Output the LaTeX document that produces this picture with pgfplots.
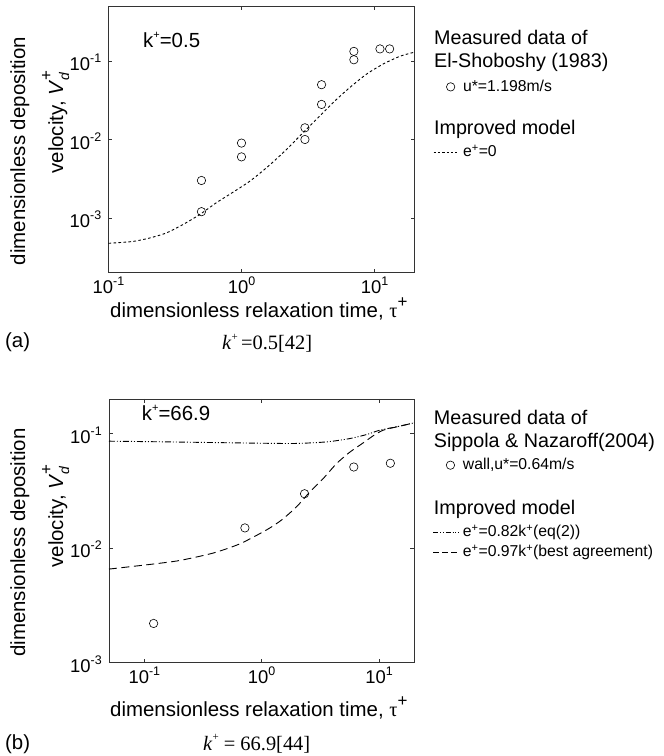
\documentclass[border=0pt]{standalone}
\usepackage{fontspec}
\setmainfont{Liberation Sans}
\newfontfamily\serif{Liberation Serif}
\usepackage{pgfplots}
\pgfplotsset{compat=1.18}

\newcommand\tsup[1]{\raisebox{0.45em}{\fontsize{11}{11}\selectfont #1}}
\newcommand\tksup[1]{\raisebox{0.42em}{\fontsize{12.5}{12.5}\selectfont #1}}
\newcommand\tenp[1]{10\tksup{#1}}
\newcommand\hdr[2]{\hspace*{-29bp}\fontsize{19.8}{19.8}\selectfont\rule{0pt}{#1}#2}
\newcommand\ent[2]{\fontsize{15.8}{15.8}\selectfont\rule{0pt}{#1}#2}
\newcommand\bigfont{\fontsize{20.5}{20.5}\selectfont}
\newcommand\vlabel{velocity, \textit{V}\rlap{\raisebox{-0.3em}{\fontsize{14}{14}\selectfont\textit{d}}}\raisebox{0.55em}{\fontsize{17}{17}\selectfont +}}
\newcommand\xlab{dimensionless relaxation time, {\serif τ}\raisebox{0.5em}{\fontsize{17}{17}\selectfont +}}

\pgfplotsset{
  lhead/.style={legend image code/.code={}},
  lcirc/.style={legend image code/.code={\draw[black, line width=0.6bp] plot[mark=o, mark size=4.2bp] coordinates {(17bp,4.5bp)};}},
  ldots/.style={legend image code/.code={\draw[black, line width=0.9bp, dash pattern=on 2.3bp off 2bp] (0bp,4bp) -- (25bp,4bp);}},
  ldashdot/.style={legend image code/.code={\draw[black, line width=0.9bp, dash pattern=on 5bp off 1.8bp on 1bp off 1.8bp on 1bp off 1.8bp] (0bp,4bp) -- (25bp,4bp);}},
  ldash/.style={legend image code/.code={\draw[black, line width=0.9bp, dash pattern=on 5.5bp off 3.5bp] (0bp,4bp) -- (25bp,4bp);}},
}

\begin{document}
\begin{tikzpicture}
\useasboundingbox (0,0) rectangle (664bp,756bp);

% ---------------- panel (a) ----------------
\begin{axis}[
  scale only axis, xmode=log, ymode=log,
  at={(108.5bp,483.3bp)}, anchor=south west,
  width=306bp, height=266.4bp,
  xmin=0.1, xmax=20, ymin=2e-4, ymax=0.5,
  axis line style={black!80, line width=0.6bp},
  major tick style={black!80, line width=0.6bp},
  major tick length=4bp, minor tick length=0pt,
  tick align=inside, tick pos=both,
  xtick={0.1,1,10}, xticklabels={\tenp{-1},\tenp{0},\tenp{1}},
  ytick={0.001,0.01,0.1}, yticklabels={\tenp{-3},\tenp{-2},\tenp{-1}},
  xticklabel style={anchor=base, yshift=-21bp, font=\fontsize{18.5}{18.5}\selectfont},
  yticklabel style={anchor=east, inner sep=0pt, xshift=-7bp, yshift=-1.5bp, font=\fontsize{18.5}{18.5}\selectfont},
  legend style={draw=none, fill=none, inner sep=0pt, outer sep=0pt,
    at={(rel axis cs:1,1)}, anchor=north west, xshift=18.7bp, yshift=-24.1bp,
    row sep=0pt, column sep=4bp,
    cells={anchor=base west}, nodes={inner sep=0pt, text depth=0pt}},
]
\addlegendimage{lhead}
\addlegendentry{\hdr{14bp}{Measured data of}}
\addlegendimage{lhead}
\addlegendentry{\hdr{23.3bp}{El-Shoboshy (1983)}}
\addlegendimage{lcirc}
\addlegendentry{\ent{23.4bp}{u*=1.198m/s}}
\addlegendimage{lhead}
\addlegendentry{\hdr{43.3bp}{Improved model}}
\addlegendimage{ldots}
\addlegendentry{\ent{21.7bp}{e\textsuperscript{+}=0}}

\addplot[only marks, mark=o, mark size=4.2bp, line width=0.6bp, black, forget plot] coordinates {
 (0.5,3.0e-3) (0.5,1.2e-3) (1,9.0e-3) (1,6.0e-3) (3,1.41e-2) (3,1.0e-2)
 (4,0.050) (4,0.028) (7,0.133) (7,0.104) (11,0.143) (13,0.143)};
\addplot[black, line width=0.9bp, dash pattern=on 2.6bp off 2.4bp, smooth, tension=0.4, forget plot] coordinates {
 (0.1,4.74e-4) (0.152,5.0e-4) (0.203,5.53e-4) (0.272,6.42e-4) (0.362,8.2e-4)
 (0.484,1.10e-3) (0.647,1.56e-3) (0.865,2.13e-3) (1.156,2.94e-3) (1.544,4.37e-3)
 (2.06,6.8e-3) (2.75,0.0111) (3.68,0.0182) (4.91,0.0298) (6.56,0.0464)
 (8.78,0.0688) (11.7,0.0923) (15.7,0.116) (20,0.130)};
\end{axis}

% ---------------- panel (b) ----------------
\begin{axis}[
  scale only axis, xmode=log, ymode=log,
  at={(109bp,93.3bp)}, anchor=south west,
  width=305.3bp, height=263.7bp,
  xmin=0.05, xmax=20, ymin=1e-3, ymax=0.2,
  axis line style={black!80, line width=0.6bp},
  major tick style={black!80, line width=0.6bp},
  major tick length=4bp, minor tick length=0pt,
  tick align=inside, tick pos=both,
  xtick={0.1,1,10}, xticklabels={\tenp{-1},\tenp{0},\tenp{1}},
  ytick={0.001,0.01,0.1}, yticklabels={\tenp{-3},\tenp{-2},\tenp{-1}},
  xticklabel style={anchor=base, yshift=-20.5bp, font=\fontsize{18.5}{18.5}\selectfont},
  yticklabel style={anchor=east, inner sep=0pt, xshift=-7bp, yshift=-1.5bp, font=\fontsize{18.5}{18.5}\selectfont},
  legend style={draw=none, fill=none, inner sep=0pt, outer sep=0pt,
    at={(rel axis cs:1,1)}, anchor=north west, xshift=18.7bp, yshift=-11.4bp,
    row sep=0pt, column sep=4bp,
    cells={anchor=base west}, nodes={inner sep=0pt, text depth=0pt}},
]
\addlegendimage{lhead}
\addlegendentry{\hdr{14bp}{Measured data of}}
\addlegendimage{lhead}
\addlegendentry{\hdr{23.3bp}{Sippola \& Nazaroff(2004)}}
\addlegendimage{lcirc}
\addlegendentry{\ent{21.7bp}{wall,u*=0.64m/s}}
\addlegendimage{lhead}
\addlegendentry{\hdr{45bp}{Improved model}}
\addlegendimage{ldashdot}
\addlegendentry{\ent{21.7bp}{e\textsuperscript{+}=0.82k\textsuperscript{+}(eq(2))}}
\addlegendimage{ldash}
\addlegendentry{\ent{20bp}{e\textsuperscript{+}=0.97k\textsuperscript{+}(best agreement)}}

\addplot[only marks, mark=o, mark size=4.2bp, line width=0.6bp, black, forget plot] coordinates {
 (0.12,2.2e-3) (0.72,0.015) (2.32,0.0298) (6.1,0.051) (12.5,0.055)};
\addplot[black, line width=0.9bp, dash pattern=on 6bp off 2bp on 1bp off 2bp on 1bp off 2bp, smooth, tension=0.4, forget plot] coordinates {
 (0.05,0.0857) (0.155,0.0845) (0.573,0.0829) (1.86,0.0818) (3.59,0.0845)
 (5.67,0.0904) (7.87,0.098) (10.2,0.107) (15.1,0.116) (20,0.124)};
\addplot[black, line width=0.9bp, dash pattern=on 8bp off 4.5bp, smooth, tension=0.4, forget plot] coordinates {
 (0.05,6.56e-3) (0.119,7.26e-3) (0.201,7.8e-3) (0.386,9.05e-3) (0.653,0.0109)
 (1.10,0.0144) (1.48,0.0176) (1.99,0.023) (2.58,0.031) (3.36,0.0406)
 (4.36,0.0548) (5.67,0.069) (7.36,0.083) (9.0,0.096) (10.9,0.107)
 (15.1,0.116) (20,0.124)};
\end{axis}

% ---------------- texts ----------------
\node[rotate=90, anchor=base, inner sep=0pt] at (25bp,605bp) {\bigfont dimensionless deposition};
\node[rotate=90, anchor=base, inner sep=0pt] at (63bp,634bp) {\bigfont\vlabel};
\node[anchor=base west, inner sep=0pt] at (110bp,438bp) {\bigfont\xlab};
\node[anchor=base west, inner sep=0pt] at (143bp,708bp) {\bigfont k\tsup{+}=0.5};
\node[anchor=base west, inner sep=0pt] at (5bp,408bp) {\bigfont (a)};
\node[anchor=base west, inner sep=0pt] at (222bp,406bp) {\serif\fontsize{20.5}{20.5}\selectfont\textit{k}\tsup{+}\,=0.5[42]};

\node[rotate=90, anchor=base, inner sep=0pt] at (25bp,213.4bp) {\bigfont dimensionless deposition};
\node[rotate=90, anchor=base, inner sep=0pt] at (63bp,240bp) {\bigfont\vlabel};
\node[anchor=base west, inner sep=0pt] at (110bp,39.3bp) {\bigfont\xlab};
\node[anchor=base west, inner sep=0pt] at (141.7bp,335.3bp) {\bigfont k\tsup{+}=66.9};
\node[anchor=base west, inner sep=0pt] at (5bp,7bp) {\bigfont (b)};
\node[anchor=base west, inner sep=0pt] at (203bp,6bp) {\serif\fontsize{20.5}{20.5}\selectfont\textit{k}\tsup{+} = 66.9[44]};
\end{tikzpicture}
\end{document}
